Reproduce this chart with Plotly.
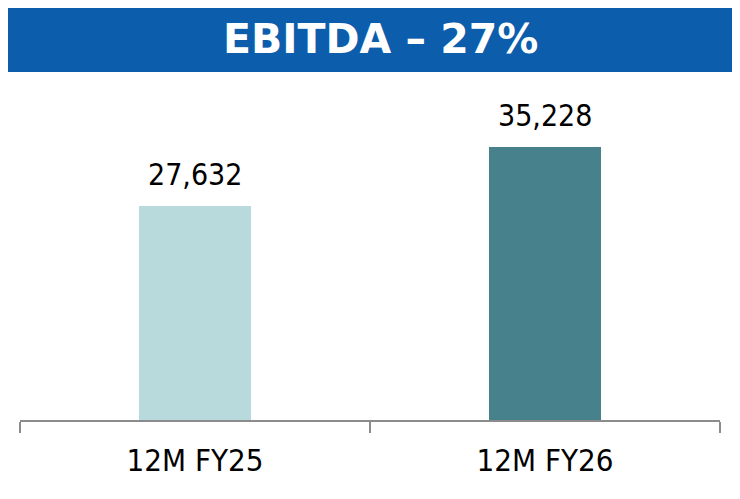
import plotly.graph_objects as go

categories = ["12M FY25", "12M FY26"]
values = [27632, 35228]
value_labels = ["27,632", "35,228"]
bar_colors = ["#B9DADC", "#46818C"]
title_text = "EBITDA – 27%"

# page body has an 8px margin; the figure fills the rest of the 740x499 window
OFF = 8
W, H = 740 - OFF, 499 - OFF
FONT = "DejaVu Sans Condensed, DejaVu Sans, sans-serif"

def px(x):
    return (x - OFF) / W

def py(y):
    return 1 - (y - OFF) / H

fig = go.Figure()
fig.add_trace(go.Bar(
    x=categories, y=values, marker=dict(color=bar_colors, line=dict(width=0)),
    width=0.32, hoverinfo="skip", showlegend=False,
))

for c, v, t in zip(categories, values, value_labels):
    fig.add_annotation(x=c, y=v, text=t, showarrow=False, yanchor="bottom",
                       yshift=12, font=dict(family=FONT, size=30, color="#000000"))

shapes = [
    dict(type="rect", xref="paper", yref="paper", x0=0, x1=1, y0=py(72), y1=1,
         fillcolor="#0C5DAB", line=dict(width=0), layer="below"),
    dict(type="line", xref="paper", yref="paper", x0=px(738.5), x1=px(738.5), y0=py(72), y1=0,
         line=dict(color="#D9D9D9", width=2)),
]

fig.add_annotation(xref="paper", yref="paper", x=px(380), y=py(39), text="<b>" + title_text + "</b>",
                   showarrow=False, xanchor="center", yanchor="middle",
                   font=dict(family="DejaVu Sans, sans-serif", size=41, color="#FFFFFF"))

fig.update_layout(
    width=W, height=H, margin=dict(l=0, r=0, t=0, b=0),
    paper_bgcolor="#FFFFFF", plot_bgcolor="#FFFFFF",
    shapes=shapes, bargap=0,
    xaxis=dict(domain=[px(20), px(720)], range=[-0.5, 1.5], showline=True, linecolor="#8C8C8C",
               linewidth=2, ticks="outside", tickson="boundaries", ticklen=11, tickwidth=2,
               tickcolor="#8C8C8C", showgrid=False, zeroline=False, ticklabelstandoff=12,
               tickfont=dict(family=FONT, size=31, color="#000000")),
    yaxis=dict(domain=[py(420), py(80)], range=[0, 43870], visible=False, showgrid=False,
               zeroline=False),
)

fig.write_html("out.html")
